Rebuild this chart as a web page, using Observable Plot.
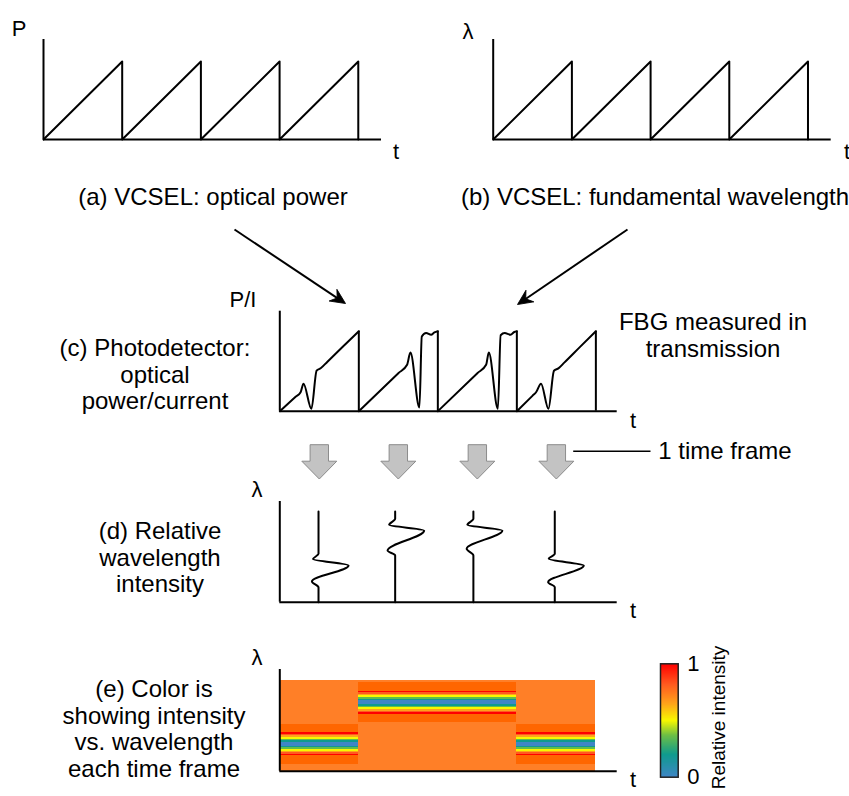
<!DOCTYPE html>
<html>
<head>
<meta charset="utf-8">
<script src="https://cdn.jsdelivr.net/npm/d3@7"></script>
<script src="https://cdn.jsdelivr.net/npm/@observablehq/plot@0.6"></script>
<style>
  html, body { margin: 0; padding: 0; background: #fff; }
  #fig { position: relative; width: 849px; height: 796px; overflow: hidden; background: #fff;
         font-family: Arial, "Liberation Sans", Helvetica, sans-serif; color: #000; }
  #fig > svg { position: absolute; }
  .lbl { position: absolute; white-space: pre; text-align: center; line-height: 26.5px;
         transform: translate(-50%, -50%); font-size: 22px; }
</style>
</head>
<body>
<div id="fig"></div>
<script>
// ---------------------------------------------------------------------------
// Data
// ---------------------------------------------------------------------------

// (a), (b): VCSEL sweep over four periods — power and wavelength ramps
const sweepTime       = [0, 1, 1, 2, 2, 3, 3, 4, 4];
const sweepPower      = [0, 1, 0, 1, 0, 1, 0, 1, 0];
const sweepWavelength = [0, 1, 0, 1, 0, 1, 0, 1, 0];

// (c): photodetector signal, phase within each sweep period and relative power
const pdPhase = [
  [0, 0.2, 0.263, 0.30, 0.40, 0.466, 0.517, 0.6, 0.8, 1],
  [0, 0.5, 0.611, 0.653, 0.767, 0.797, 0.852, 0.915, 0.957, 1],
  [0, 0.5, 0.611, 0.645, 0.76, 0.795, 0.846, 0.92, 0.968, 1],
  [0, 0.2, 0.243, 0.306, 0.40, 0.47, 0.526, 0.6, 0.8, 1]
];
const pdPower = [
  [0, 0.18, 0.237, 0.344, 0.03, 0.506, 0.536, 0.616, 0.808, 1],
  [0, 0.475, 0.58, 0.733, 0.045, 0.933, 0.977, 0.955, 0.985, 1],
  [0, 0.475, 0.58, 0.733, 0.03, 0.95, 0.977, 0.955, 0.99, 1],
  [0, 0.195, 0.237, 0.344, 0.03, 0.506, 0.536, 0.607, 0.804, 1]
];

// (d): one spectrum per time frame — trace position, wavelength, intensity swing
const frames = [0, 1, 2, 3];
const spectrumTime = [0.49, 1.46, 2.45, 3.48];
const spectrumWavelength = [
  [0.90, 0.48, 0.428, 0.364, 0.206, 0.146, 0],
  [0.90, 0.828, 0.769, 0.712, 0.513, 0.464, 0],
  [0.90, 0.828, 0.769, 0.712, 0.53, 0.464, 0],
  [0.90, 0.48, 0.431, 0.364, 0.199, 0.149, 0]
];
const spectrumIntensity = [
  [0, 0, -0.07, 0.38, -0.084, 0, 0],
  [0, 0, -0.076, 0.367, -0.096, 0, 0],
  [0, 0, -0.076, 0.367, -0.085, 0, 0],
  [0, 0, -0.076, 0.367, -0.084, 0, 0]
];

// (e): colour-coded spectra — resonance centre per frame (wavelength units),
// stripe edges measured from the centre and their relative intensity
const resonanceCenter = [27, 68.7, 68.7, 27];
const frameTop = 90.7;
const bandHalfWidth = 20;
const stripeEdges = [0, 2, 3.5, 5, 7, 8.5, 10, 11.5];
const stripeIntensity = [0, 0.2, 0.35, 0.5, 0.65, 0.82, 1];
const intensityTicks = [0, 1];

// ---------------------------------------------------------------------------
// Shared styles and helpers
// ---------------------------------------------------------------------------
const fig = document.getElementById("fig");
const FONT = 'Arial, "Liberation Sans", Helvetica, sans-serif';
const LW = 2;

const intensityColor = {
  type: "linear",
  domain: [0, 0.2, 0.37, 0.5, 0.65, 0.82, 1],
  range: ["#3f86c6", "#0f9b8e", "#6dbf45", "#f8f800", "#ffa31a", "#ff5a1f", "#ff0000"]
};

function place(svg, left, top) {
  svg.style.left = left + "px";
  svg.style.top = top + "px";
  fig.appendChild(svg);
}

function label(text, cx, cy, size) {
  const d = document.createElement("div");
  d.className = "lbl";
  d.textContent = text;
  d.style.left = cx + "px";
  d.style.top = cy + "px";
  if (size) d.style.fontSize = size + "px";
  fig.appendChild(d);
}

const baseStyle = {fontFamily: FONT, background: "transparent", overflow: "visible"};

// arrow heads drawn as custom symbols, tip at the origin pointing up
const barbedHead = {
  draw(ctx) {
    ctx.moveTo(0, 0);
    ctx.lineTo(7, 15);
    ctx.lineTo(0, 10);
    ctx.lineTo(-7, 15);
    ctx.closePath();
  }
};
// block arrow pointing down, origin at the base of the head
const blockArrow = {
  draw(ctx) {
    ctx.moveTo(-9.2, -16.5);
    ctx.lineTo(9.2, -16.5);
    ctx.lineTo(9.2, 0);
    ctx.lineTo(17.5, 0);
    ctx.lineTo(0, 17.8);
    ctx.lineTo(-17.5, 0);
    ctx.lineTo(-9.2, 0);
    ctx.closePath();
  }
};

// ---------------------------------------------------------------------------
// (a) optical power and (b) fundamental wavelength
// ---------------------------------------------------------------------------
const sweep = sweepTime.map((t, i) => ({t, p: sweepPower[i], w: sweepWavelength[i]}));

function sawPanel(key, width, marginLeft, marginRight) {
  return Plot.plot({
    width, height: 150,
    marginLeft, marginRight, marginTop: 39, marginBottom: 11,
    x: {domain: [0, 4.295], axis: null},
    y: {domain: [0, 1.282], axis: null},
    style: baseStyle,
    marks: [
      Plot.ruleX([0], {strokeWidth: LW}),
      Plot.ruleY([0], {strokeWidth: LW}),
      Plot.line(sweep, {x: "t", y: key, strokeWidth: LW})
    ]
  });
}
place(sawPanel("p", 430, 43, 49), 0, 0);
place(sawPanel("w", 419, 62.7, 18.3), 430, 0);

// ---------------------------------------------------------------------------
// (c) photodetector signal, with one block arrow per time frame
// ---------------------------------------------------------------------------
const T_DOMAIN = [0, 4.27];
const T_MARGIN_L = 279.3, T_MARGIN_R = 232.3;

const pd = pdPhase.flatMap((ph, k) => ph.map((u, i) => ({frame: k, t: k + u, p: pdPower[k][i]})));
const pdEnds = pdPhase.map((ph, k) => ({t: k + 1, p: pdPower[k][ph.length - 1]}));
const frameCenters = frames.map((k) => k + 0.5);

place(Plot.plot({
  width: 849, height: 200,
  marginLeft: T_MARGIN_L, marginRight: T_MARGIN_R, marginTop: 20.7, marginBottom: 79.3,
  x: {domain: T_DOMAIN, axis: null},
  y: {domain: [0, 1.25], axis: null},
  style: baseStyle,
  marks: [
    Plot.ruleX([0], {strokeWidth: LW}),
    Plot.ruleY([0], {strokeWidth: LW}),
    Plot.line(pd, {x: "t", y: "p", z: "frame", curve: "monotone-x", strokeWidth: LW}),
    Plot.ruleX(pdEnds, {x: "t", y1: 0, y2: "p", strokeWidth: LW}),
    Plot.dot(frameCenters, {x: (d) => d, frameAnchor: "bottom", dy: 50, r: 5,
      symbol: blockArrow, fill: "#c3c3c3", stroke: "#8c8c8c", strokeWidth: 1})
  ]
}), 0, 290);

// ---------------------------------------------------------------------------
// (d) relative wavelength intensity per frame
// ---------------------------------------------------------------------------
const spectra = spectrumTime.flatMap((t0, k) =>
  spectrumWavelength[k].map((w, i) => ({frame: k, x: t0 + spectrumIntensity[k][i], w})));

place(Plot.plot({
  width: 849, height: 115,
  marginLeft: T_MARGIN_L, marginRight: T_MARGIN_R, marginTop: 6, marginBottom: 8.3,
  x: {domain: T_DOMAIN, axis: null},
  y: {domain: [0, 1], axis: null},
  style: baseStyle,
  marks: [
    Plot.ruleX([0], {strokeWidth: LW}),
    Plot.ruleY([0], {strokeWidth: LW}),
    Plot.line(spectra, {x: "x", y: "w", z: "frame", curve: "monotone-y", strokeWidth: LW})
  ]
}), 0, 495);

// ---------------------------------------------------------------------------
// (e) intensity vs. wavelength as colour for each frame
// ---------------------------------------------------------------------------
const backgrounds = frames.map((k) => ({x1: k, x2: k + 1, y1: 0, y2: frameTop}));
const bands = frames.map((k) => ({x1: k, x2: k + 1,
  y1: resonanceCenter[k] - bandHalfWidth, y2: resonanceCenter[k] + bandHalfWidth}));
const stripes = frames.flatMap((k) => stripeIntensity.flatMap((v, i) => [
  {x1: k, x2: k + 1, y1: resonanceCenter[k] + stripeEdges[i], y2: resonanceCenter[k] + stripeEdges[i + 1], v},
  {x1: k, x2: k + 1, y1: resonanceCenter[k] - stripeEdges[i + 1], y2: resonanceCenter[k] - stripeEdges[i], v}
]));

place(Plot.plot({
  width: 849, height: 120,
  marginLeft: T_MARGIN_L, marginRight: T_MARGIN_R, marginTop: 9, marginBottom: 9.3,
  x: {domain: T_DOMAIN, axis: null},
  y: {domain: [0, 101.7], axis: null},
  color: intensityColor,
  style: baseStyle,
  marks: [
    Plot.rect(backgrounds, {x1: "x1", x2: "x2", y1: "y1", y2: "y2", fill: "#ff7f27", shapeRendering: "crispEdges"}),
    Plot.rect(bands, {x1: "x1", x2: "x2", y1: "y1", y2: "y2", fill: "#ff6600", shapeRendering: "crispEdges"}),
    Plot.rect(stripes, {x1: "x1", x2: "x2", y1: "y1", y2: "y2", fill: "v", shapeRendering: "crispEdges"}),
    Plot.ruleX([0], {strokeWidth: LW}),
    Plot.ruleY([0], {strokeWidth: LW})
  ]
}), 0, 660);

// colour bar
place(Plot.plot({
  width: 229, height: 170,
  marginLeft: 40, marginRight: 171.3, marginTop: 33.3, marginBottom: 23.3,
  x: {domain: [0, 1], axis: null},
  y: {domain: [0, 1]},
  color: intensityColor,
  style: baseStyle,
  marks: [
    Plot.raster({x1: 0, x2: 1, y1: 0, y2: 1, width: 1, height: 200, fill: (x, y) => y}),
    Plot.frame({stroke: "#222", strokeWidth: 1.5}),
    Plot.axisY({anchor: "right", ticks: intensityTicks, tickFormat: d3.format("d"), tickSize: 0,
      tickPadding: 9, fontSize: 22, label: null}),
    Plot.text(["Relative intensity"], {frameAnchor: "right", textAnchor: "middle", lineAnchor: "middle",
      rotate: -90, dx: 41, dy: -3, fontSize: 19})
  ]
}), 620, 630);

// ---------------------------------------------------------------------------
// connecting arrows and the time-frame pointer
// ---------------------------------------------------------------------------
const connectors = [
  {x1: 234, y1: 229, x2: 345, y2: 303},
  {x1: 627, y1: 229, x2: 517, y2: 304}
];
const framePointer = [{x1: 572.7, x2: 650, y: 450.7}];
const heads = connectors.map((c) => {
  const dx = c.x2 - c.x1, dy = c.y2 - c.y1, len = Math.hypot(dx, dy);
  return {x: c.x2, y: c.y2, angle: Math.atan2(dx, -dy) * 180 / Math.PI,
          sx: c.x2 - dx / len * 8, sy: c.y2 - dy / len * 8, x0: c.x1, y0: c.y1};
});

place(Plot.plot({
  width: 849, height: 796, margin: 0,
  x: {domain: [0, 849], range: [0, 849], axis: null},
  y: {domain: [0, 796], range: [0, 796], axis: null},
  style: {...baseStyle, pointerEvents: "none"},
  marks: [
    Plot.link(heads, {x1: "x0", y1: "y0", x2: "sx", y2: "sy", strokeWidth: LW}),
    Plot.dot(heads, {x: "x", y: "y", rotate: "angle", r: 5, symbol: barbedHead, fill: "#000", stroke: "#000", strokeWidth: 0.8}),
    Plot.link(framePointer, {x1: "x1", x2: "x2", y1: "y", y2: "y", strokeWidth: 1.5})
  ]
}), 0, 0);

// ---------------------------------------------------------------------------
// text
// ---------------------------------------------------------------------------
label("P", 19, 29);
label("t", 396, 152);
label("(a) VCSEL: optical power", 213, 197, 24);
label("λ", 468, 32);
label("t", 847, 152);
label("(b) VCSEL: fundamental wavelength", 655, 197, 24);
label("P/I", 243, 300);
label("(c) Photodetector:\noptical\npower/current", 155, 375, 24);
label("FBG measured in\ntransmission", 713, 335, 24);
label("t", 633, 421);
label("1 time frame", 725, 451, 24);
label("λ", 257, 490);
label("(d) Relative\nwavelength\nintensity", 160, 558, 24);
label("t", 633, 611);
label("λ", 257, 658);
label("(e) Color is\nshowing intensity\nvs. wavelength\neach time frame", 154, 729, 24);
label("t", 633, 780);
</script>
</body>
</html>
